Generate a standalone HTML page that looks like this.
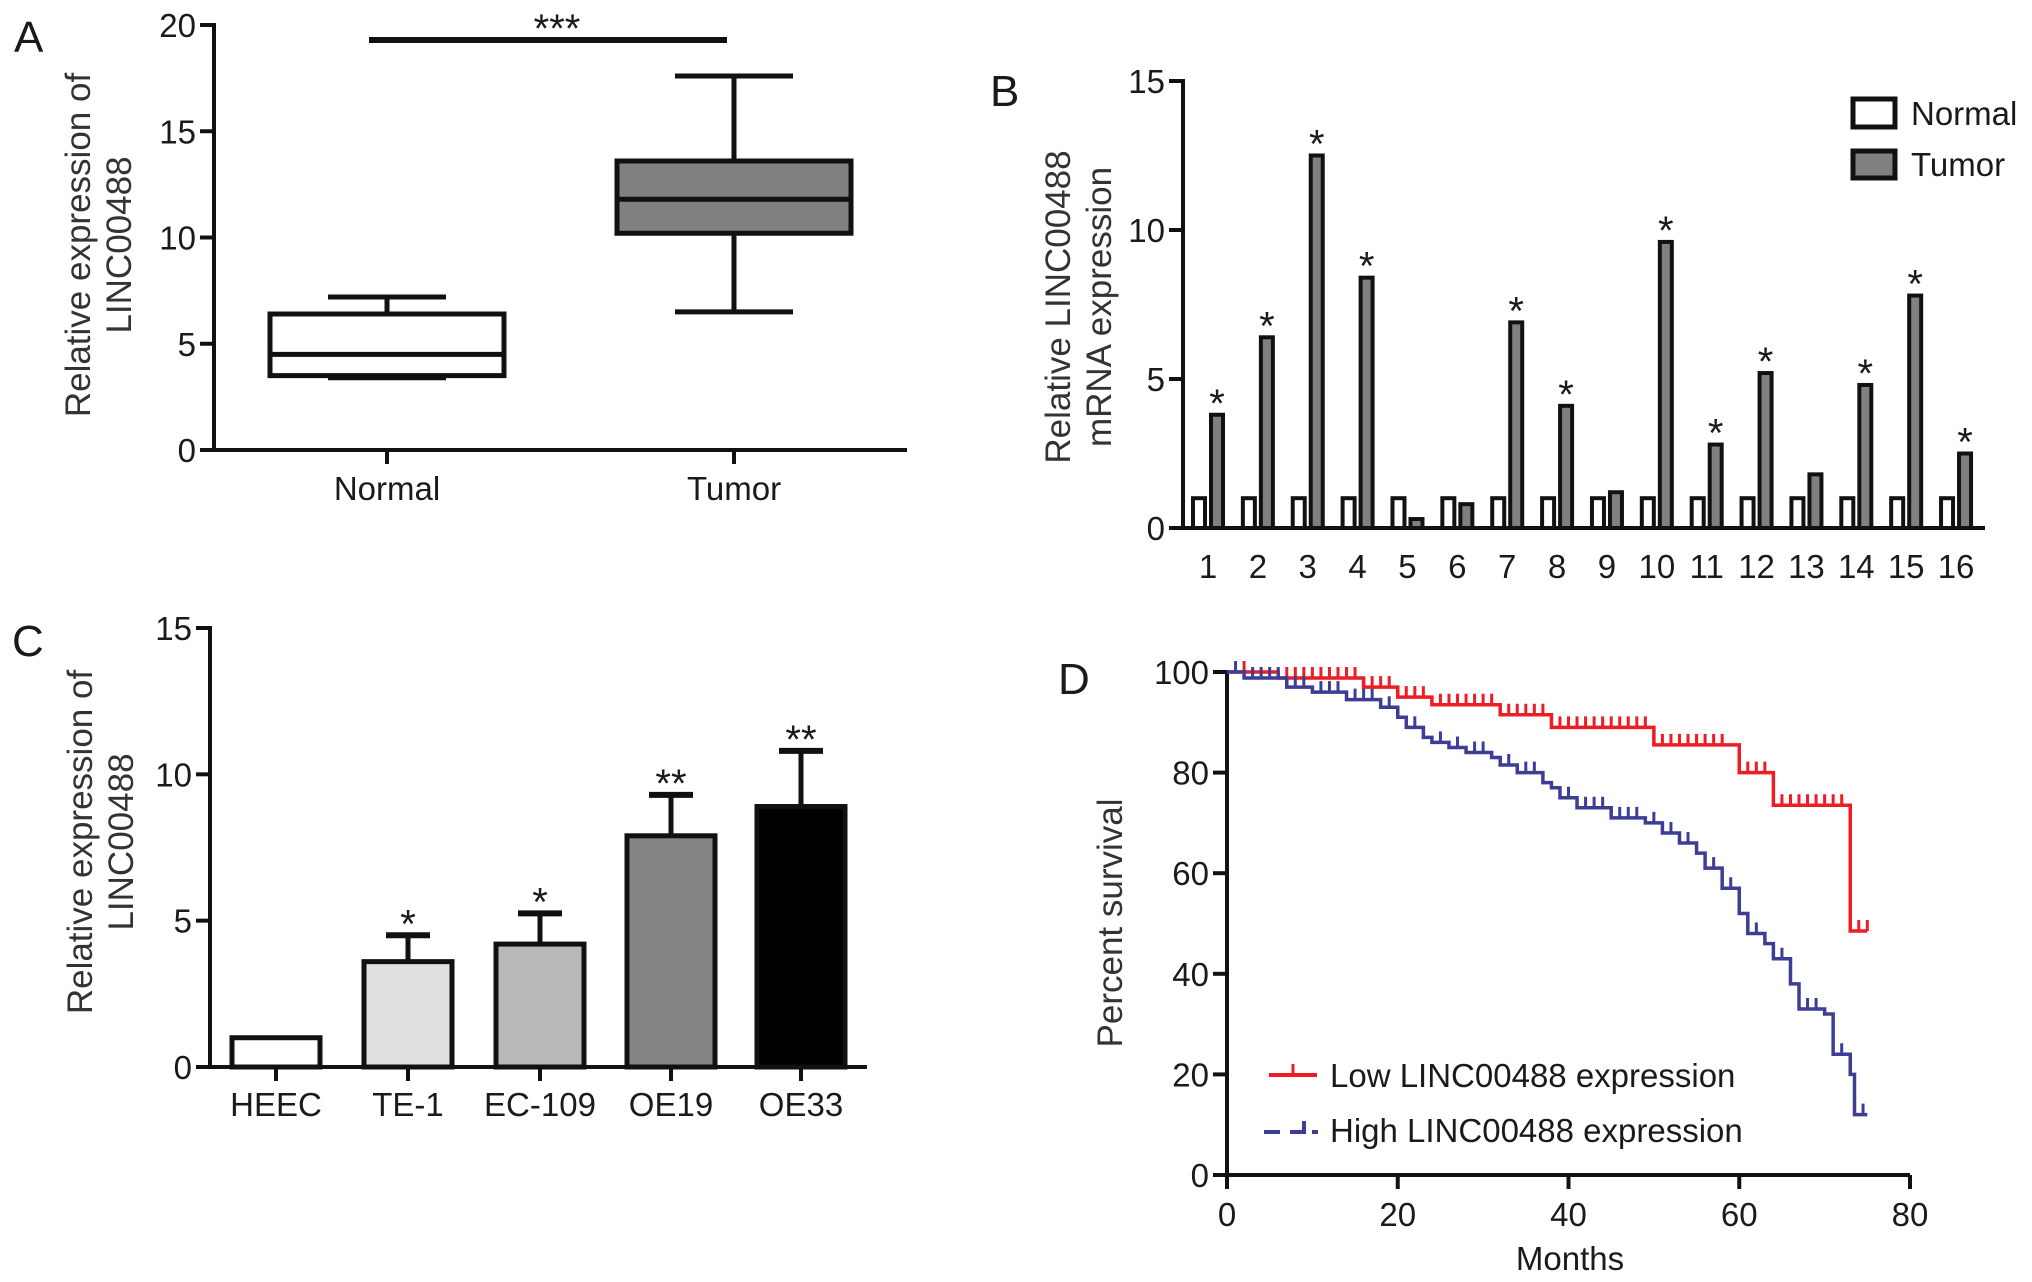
<!DOCTYPE html>
<html><head><meta charset="utf-8"><style>
html,body{margin:0;padding:0;background:#fff}
svg{display:block}
text{font-family:"Liberation Sans Narrow","Liberation Sans",sans-serif;fill:#1a1a1a}
.t{font-size:33px}
.st{font-size:40px}
.ti{font-family:"Liberation Sans",sans-serif;font-size:35px;fill:#333}
.pl{font-family:"Liberation Sans",sans-serif;font-size:44px}
</style></head><body>
<svg id="fig" width="2032" height="1282" viewBox="0 0 2032 1282" xmlns="http://www.w3.org/2000/svg">
<text class="pl" x="14" y="52">A</text>
<text class="pl" x="990" y="106">B</text>
<text class="pl" x="12" y="656">C</text>
<text class="pl" x="1058" y="694">D</text>
<g id="A"></g>
<g id="B"></g>
<g id="C"></g>
<g id="D"></g>
</svg>
<script>
// Panel A data
const aCats = ["Normal","Tumor"];
const aMin = [3.4, 6.5];
const aQ1 = [3.5, 10.2];
const aMed = [4.5, 11.8];
const aQ3 = [6.4, 13.6];
const aMax = [7.2, 17.6];
const aTicks = [0,5,10,15,20];
// Panel B data
const bCats = ["1","2","3","4","5","6","7","8","9","10","11","12","13","14","15","16"];
const bNormal = [1,1,1,1,1,1,1,1,1,1,1,1,1,1,1,1];
const bTumor = [3.8,6.4,12.5,8.4,0.3,0.8,6.9,4.1,1.2,9.6,2.8,5.2,1.8,4.8,7.8,2.5];
const bStars = ["*","*","*","*","","","*","*","","*","*","*","","*","*","*"];
const bTicks = [0,5,10,15];
// Panel C data
const cCats = ["HEEC","TE-1","EC-109","OE19","OE33"];
const cVals = [1.0,3.6,4.2,7.9,8.9];
const cErr = [0,0.9,1.05,1.4,1.9];
const cStars = ["","*","*","**","**"];
const cColors = ["#ffffff","#e0e0e0","#b9b9b9","#858585","#000000"];
const cTicks = [0,5,10,15];
// Panel D data
const lowT = [0,6,16,20,24,32,38,50,60,64,73];
const lowS = [100,98.8,97,95,93.5,91.5,89,85.5,80,73.5,48.5];
const lowCens = [2,7,8,9,10,11,12,13,14,15,17,18,19,21,22,23,25,26,27,28,29,30,31,33,34,35,36,37,39,40,41,42,43,44,45,46,47,48,49,51,52,53,54,55,56,57,58,61,62,63,65,66,67,68,69,70,71,72,74,75];
const highT = [0,2,7,10,14,18,20,21,23,24,26,28,31,32,34,37,38,39,41,45,49,51,53,55,56,58,60,61,63,64,66,67,70,71,73,73.5];
const highS = [100,98.8,97,96,94.5,93,91,89,87,86,85,84,83,81.5,80,78,77,75,73,71,70,68,66,64,61,57,52,48,46,43,38,33,32,24,20,12];
const highCens = [1,3,4,5,6,8,9,11,12,13,15,16,17,19,22,25,27,29,30,33,35,36,40,42,43,44,46,47,48,50,52,54,57,59,62,65,68,69,72,74.5];
const dXTicks = [0,20,40,60,80];
const dYTicks = [0,20,40,60,80,100];

const NS="http://www.w3.org/2000/svg";
function mk(p,tag,at,txt){const e=document.createElementNS(NS,tag);for(const k in at)e.setAttribute(k,at[k]);if(txt!==undefined)e.textContent=txt;p.appendChild(e);return e;}
function yAxis(g,x,y,ticks,x0,x1){
  const l=mk(g,'line',{x1:x,y1:y(ticks[ticks.length-1])-2,x2:x,y2:y(ticks[0])+2,stroke:'#111','stroke-width':4});
  
  
  ticks.forEach(v=>{mk(g,'line',{x1:x-14,x2:x,y1:y(v),y2:y(v),stroke:'#111','stroke-width':4});
    const t=mk(g,'text',{x:x-18,y:y(v)+12,'text-anchor':'end',class:'t'},String(v));
    
    });
  const xa=mk(g,'line',{x1:x,x2:x1,y1:y(ticks[0]),y2:y(ticks[0]),stroke:'#111','stroke-width':4});
  
  
}
function ytitle(g,cx,cy,lines,name){
  const t=mk(g,'text',{transform:`translate(${cx},${cy}) rotate(-90)`,'text-anchor':'middle',class:'ti'});
  
  
  lines.forEach((s,i)=>mk(t,'tspan',{x:0,dy:i?41:0},s));
}

// ---- A
(function(){
  const g=document.getElementById('A');
  const y=v=>450-v*(450-25)/20;
  const xs=[387,734], hw=117;
  yAxis(g,214,y,aTicks,214,907);
  ytitle(g,90,245,["Relative expression of","LINC00488"],'y-axis-title');
  aCats.forEach((c,i)=>{
    const x=xs[i];
    mk(g,'line',{x1:x,x2:x,y1:y(aMax[i]),y2:y(aQ3[i]),stroke:'#111','stroke-width':5});
    mk(g,'line',{x1:x,x2:x,y1:y(aMin[i]),y2:y(aQ1[i]),stroke:'#111','stroke-width':5});
    mk(g,'line',{x1:x-59,x2:x+59,y1:y(aMax[i]),y2:y(aMax[i]),stroke:'#111','stroke-width':5});
    mk(g,'line',{x1:x-59,x2:x+59,y1:y(aMin[i]),y2:y(aMin[i]),stroke:'#111','stroke-width':5});
    const b=mk(g,'rect',{x:x-hw,y:y(aQ3[i]),width:hw*2,height:y(aQ1[i])-y(aQ3[i]),fill:i?'#808080':'#fff',stroke:'#111','stroke-width':5});
    
    
    mk(g,'line',{x1:x-hw,x2:x+hw,y1:y(aMed[i]),y2:y(aMed[i]),stroke:'#111','stroke-width':5});
    mk(g,'line',{x1:x,x2:x,y1:y(0),y2:y(0)+14,stroke:'#111','stroke-width':4});
    const t=mk(g,'text',{x:x,y:500,'text-anchor':'middle',class:'t'},c);
    
    
  });
  const s=mk(g,'line',{x1:369,x2:727,y1:40,y2:40,stroke:'#111','stroke-width':6});
  
  
  mk(g,'text',{x:557,y:42,'text-anchor':'middle',class:'st'},'***');
})();

// ---- B
(function(){
  const g=document.getElementById('B');
  const y=v=>528-v*(528-81)/15;
  const cx=i=>1208+i*49.87;
  yAxis(g,1183,y,bTicks,1183,1985);
  ytitle(g,1070,307,["Relative LINC00488","mRNA expression"],'y-axis-title');
  bCats.forEach((c,i)=>{
    const n=mk(g,'rect',{x:cx(i)-15,y:y(bNormal[i]),width:12,height:y(0)-y(bNormal[i]),fill:'#fff',stroke:'#111','stroke-width':4});
    
    
    const t=mk(g,'rect',{x:cx(i)+3,y:y(bTumor[i]),width:12,height:y(0)-y(bTumor[i]),fill:'#808080',stroke:'#111','stroke-width':4});
    
    
    if(bStars[i]) mk(g,'text',{x:cx(i)+9,y:y(bTumor[i])+2,'text-anchor':'middle',class:'st'},bStars[i]);
    const l=mk(g,'text',{x:cx(i),y:578,'text-anchor':'middle',class:'t'},c);
    
    
  });
  const l1=mk(g,'rect',{x:1853,y:99,width:42,height:28,fill:'#fff',stroke:'#111','stroke-width':5});
  
  
  const l2=mk(g,'rect',{x:1853,y:151,width:42,height:27,fill:'#808080',stroke:'#111','stroke-width':5});
  
  
  mk(g,'text',{x:1911,y:125,class:'t'},'Normal');
  mk(g,'text',{x:1911,y:176,class:'t'},'Tumor');
})();

// ---- C
(function(){
  const g=document.getElementById('C');
  const y=v=>1067-v*(1067-628)/15;
  const xs=[276,408,540,671,801], hw=44;
  yAxis(g,210,y,cTicks,210,867);
  ytitle(g,92,842,["Relative expression of","LINC00488"],'y-axis-title');
  cCats.forEach((c,i)=>{
    const x=xs[i];
    if(cErr[i]>0){
      mk(g,'line',{x1:x,x2:x,y1:y(cVals[i]+cErr[i]),y2:y(cVals[i]),stroke:'#111','stroke-width':5});
      mk(g,'line',{x1:x-22,x2:x+22,y1:y(cVals[i]+cErr[i]),y2:y(cVals[i]+cErr[i]),stroke:'#111','stroke-width':6});
    }
    const b=mk(g,'rect',{x:x-hw,y:y(cVals[i]),width:hw*2,height:y(0)-y(cVals[i]),fill:cColors[i],stroke:'#111','stroke-width':5});
    
    
    if(cStars[i]) mk(g,'text',{x:x,y:y(cVals[i]+cErr[i])+2,'text-anchor':'middle',class:'st'},cStars[i]);
    mk(g,'line',{x1:x,x2:x,y1:y(0),y2:y(0)+14,stroke:'#111','stroke-width':4});
    const t=mk(g,'text',{x:x,y:1116,'text-anchor':'middle',class:'t'},c);
    
    
  });
})();

// ---- D
(function(){
  const g=document.getElementById('D');
  const x=v=>1227+v*(1910-1227)/80;
  const y=v=>1175-v*(1175-672)/100;
  yAxis(g,1227,y,dYTicks,1227,1910);
  dXTicks.forEach(v=>{mk(g,'line',{x1:x(v),x2:x(v),y1:y(0),y2:y(0)+14,stroke:'#111','stroke-width':4});
    const t=mk(g,'text',{x:x(v),y:1226,'text-anchor':'middle',class:'t'},String(v));
    
    });
  const xt=mk(g,'text',{x:1570,y:1270,'text-anchor':'middle',class:'t'},'Months');
  
  
  ytitle(g,1122,923,["Percent survival"],'y-axis-title');
  function curve(T,S,C,end,col,name){
    let d=`M${x(T[0])},${y(S[0])}`;
    for(let i=1;i<T.length;i++){d+=` H${x(T[i])} V${y(S[i])}`;}
    d+=` H${x(end)}`;
    const p=mk(g,'path',{d:d,fill:'none',stroke:col,'stroke-width':3.5});
    
    
    const sAt=t=>{let s=S[0];for(let i=0;i<T.length;i++){if(T[i]<=t)s=S[i];}return s;};
    let cd='';
    C.forEach(t=>{const yy=y(sAt(t));cd+=`M${x(t)},${yy} V${yy-11} `;});
    mk(g,'path',{d:cd,fill:'none',stroke:col,'stroke-width':3});
  }
  curve(lowT,lowS,lowCens,75,'#ee1c25','low-expression-curve');
  curve(highT,highS,highCens,75,'#3d3d95','high-expression-curve');
  mk(g,'line',{x1:1269,x2:1317,y1:1075,y2:1075,stroke:'#ee1c25','stroke-width':4});
  mk(g,'line',{x1:1293,x2:1293,y1:1075,y2:1064,stroke:'#ee1c25','stroke-width':3});
  mk(g,'text',{x:1330,y:1087,class:'t'},'Low LINC00488 expression');
  mk(g,'path',{d:'M1264,1132 H1280 M1290,1132 H1304 V1121 M1312,1132 H1318',fill:'none',stroke:'#3d3d95','stroke-width':4});
  mk(g,'text',{x:1330,y:1142,class:'t'},'High LINC00488 expression');
})();
</script>
</body></html>
